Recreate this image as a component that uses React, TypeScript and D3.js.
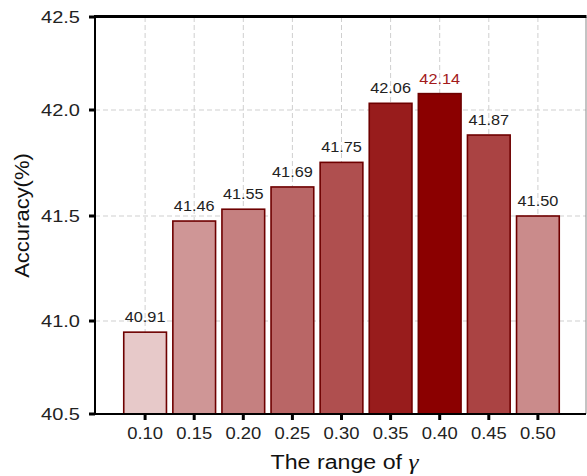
import React from "react";
import * as d3 from "d3";

// ---- data ----
const gammas = ["0.10", "0.15", "0.20", "0.25", "0.30", "0.35", "0.40", "0.45", "0.50"];
const accuracyLabels = [40.91, 41.46, 41.55, 41.69, 41.75, 42.06, 42.14, 41.87, 41.5];
// bar heights as drawn in the picture
const barHeights = [40.94, 41.476, 41.532, 41.637, 41.753, 42.036, 42.088, 41.882, 41.5];
const yTicks = [40.5, 41.0, 41.5, 42.0, 42.5];

// ---- styles ----
const barShade = [0.21, 0.41, 0.5, 0.6, 0.69, 0.89, 1.0, 0.737, 0.455];
const W = 587;
const H = 476;
const frame = { left: 95, right: 586, top: 17, bottom: 414 };
const yRange = [414, 321, 216, 110, 17];
const FONT = "'Liberation Sans', Arial, Helvetica, sans-serif";

export default function App() {
  const x = d3
    .scaleBand<string>()
    .domain(gammas)
    .range([frame.left + 1, frame.right + 1])
    .paddingInner(0.13)
    .paddingOuter(0.565);
  const y = d3.scaleLinear().domain(yTicks).range(yRange);
  const shade = d3.interpolateRgb("#ffffff", "#8b0000");
  const maxIdx = accuracyLabels.indexOf(d3.max(accuracyLabels) as number);
  const cx = (g: string) => (x(g) as number) + x.bandwidth() / 2;

  return (
    <svg
      width={W}
      height={H}
      style={{ position: "absolute", left: 0, top: 0, background: "#fff" }}
      fontFamily={FONT}
    >
      {/* grid */}
      <g stroke="#cfcfcf" strokeWidth={1} strokeDasharray="5,3">
        {gammas.map((g) => (
          <line key={g} x1={cx(g)} x2={cx(g)} y1={frame.top} y2={frame.bottom} />
        ))}
        {yTicks.slice(1, -1).map((t) => (
          <line key={t} x1={frame.left} x2={frame.right} y1={y(t)} y2={y(t)} />
        ))}
      </g>

      {/* bars */}
      {gammas.map((g, i) => (
        <rect
          key={g}
          x={x(g)}
          y={y(barHeights[i])}
          width={x.bandwidth()}
          height={frame.bottom - y(barHeights[i])}
          fill={shade(barShade[i])}
          stroke="#6e0000"
          strokeWidth={1.6}
        />
      ))}

      {/* value labels */}
      {gammas.map((g, i) => (
        <text
          key={g}
          transform={`translate(${cx(g)},${y(barHeights[i]) - 10}) scale(1.05,1)`}
          textAnchor="middle"
          fontSize={15.5}
          fill={i === maxIdx ? "#a31a1a" : "#222"}
        >
          {accuracyLabels[i].toFixed(2)}
        </text>
      ))}

      {/* frame */}
      <line x1={frame.right} x2={frame.right} y1={frame.top} y2={frame.bottom} stroke="#888" strokeWidth={1} />
      <line x1={frame.left} x2={frame.right} y1={frame.bottom} y2={frame.bottom} stroke="#000" strokeWidth={2} />
      <line x1={frame.left} x2={frame.left} y1={frame.top} y2={frame.bottom + 1} stroke="#000" strokeWidth={2} />
      <line x1={frame.left - 1} x2={frame.right + 0.5} y1={frame.top - 0.5} y2={frame.top - 0.5} stroke="#000" strokeWidth={2.8} />

      {/* y ticks */}
      {yTicks.map((t) => (
        <g key={t}>
          <line x1={frame.left - 6} x2={frame.left} y1={y(t)} y2={y(t)} stroke="#000" strokeWidth={3} />
          <text
            transform={`translate(${frame.left - 15},${y(t) + 6}) scale(1.25,1)`}
            textAnchor="end"
            fontSize={16}
            fill="#222"
          >
            {t.toFixed(1)}
          </text>
        </g>
      ))}

      {/* x ticks */}
      {gammas.map((g) => (
        <g key={g}>
          <line x1={cx(g)} x2={cx(g)} y1={frame.bottom} y2={frame.bottom + 6} stroke="#000" strokeWidth={3} />
          <text
            transform={`translate(${cx(g)},${frame.bottom + 25}) scale(1.15,1)`}
            textAnchor="middle"
            fontSize={16}
            fill="#222"
          >
            {g}
          </text>
        </g>
      ))}

      {/* axis titles */}
      <text
        transform={`translate(29,${(frame.top + frame.bottom) / 2}) rotate(-90) scale(1.1,1)`}
        textAnchor="middle"
        fontSize={20}
        fill="#111"
      >
        Accuracy(%)
      </text>
      <text
        transform={`translate(${(frame.left + frame.right) / 2 + 4},469) scale(1.16,1)`}
        textAnchor="middle"
        fontSize={20}
        fill="#111"
      >
        The range of{" "}
        <tspan fontFamily="'Liberation Serif', 'DejaVu Serif', serif" fontStyle="italic" fontSize={22}>
          γ
        </tspan>
      </text>
    </svg>
  );
}
